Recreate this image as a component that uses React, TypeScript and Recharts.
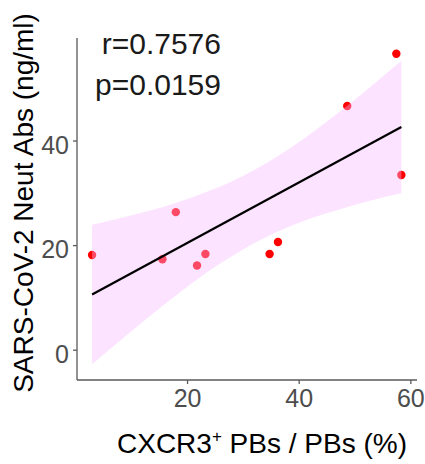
import {
  Area,
  ComposedChart,
  Line,
  Scatter,
  XAxis,
  YAxis,
} from "recharts";

// CXCR3+ PBs / PBs (%) vs neutralising antibodies (ng/ml)
const pctCxcr3 = [57.4, 48.6, 58.3, 17.9, 2.9, 15.5, 23.2, 21.7, 34.7, 36.2];
const neutAbs = [56.7, 46.7, 33.5, 26.4, 18.2, 17.4, 18.4, 16.2, 18.4, 20.7];

// fitted line end points
const fitX = [2.9, 58.3];
const fitY = [10.65, 42.67];

// confidence band
const bandX = [2.9, 8, 13, 18, 23, 28, 32, 36, 41, 46, 51, 55, 58.3];
const bandLow = [-2.7, 1.9, 6.3, 10.5, 14.5, 18.0, 20.5, 22.6, 24.8, 26.5, 28.1, 29.2, 30.0];
const bandHigh = [24.0, 25.3, 26.6, 28.2, 30.1, 32.3, 34.5, 37.0, 40.6, 44.6, 48.8, 52.4, 55.3];

const xTicks = [20, 40, 60];
const yTicks = [0, 20, 40];

const points = pctCxcr3.map((x, i) => ({ x, y: neutAbs[i] }));
const fit = fitX.map((x, i) => ({ x, fit: fitY[i] }));
const band = bandX.map((x, i) => ({ x, band: [bandLow[i], bandHigh[i]] }));

const X_DOMAIN = [0.2, 61.1];
const Y_DOMAIN = [-5.7, 59.7];
const FONT = "'Liberation Sans', Arial, sans-serif";
const AXIS = { stroke: "#595959", strokeWidth: 1.3 };
const TICK = { fill: "#4d4d4d", fontSize: 25, fontFamily: FONT };

const layer = { position: "absolute" as const, left: 0, top: 0 };

export default function App() {
  return (
    <div style={{ ...layer, width: 425, height: 464 }}>
      {/* axes + points */}
      <div style={layer}>
        <ComposedChart
          width={425}
          height={464}
          margin={{ top: 38, right: 8, bottom: 0, left: 0 }}
        >
          <XAxis
            dataKey="x"
            type="number"
            domain={X_DOMAIN}
            ticks={xTicks}
            allowDataOverflow
            height={84}
            axisLine={AXIS}
            tickLine={AXIS}
            tickSize={4}
            tickMargin={5}
            tick={TICK}
          />
          <YAxis
            type="number"
            domain={Y_DOMAIN}
            ticks={yTicks}
            allowDataOverflow
            width={77}
            axisLine={AXIS}
            tickLine={AXIS}
            tickSize={4}
            tickMargin={4}
            tick={{ ...TICK, dy: 4 }}
          />
          <Scatter
            data={points}
            dataKey="y"
            fill="#ff0000"
            shape={(p: any) => <circle cx={p.cx} cy={p.cy} r={4.2} fill="#ff0000" />}
            isAnimationActive={false}
          />
        </ComposedChart>
      </div>
      {/* smoother drawn over the points, as in the original */}
      <div style={layer}>
        <ComposedChart
          width={425}
          height={464}
          margin={{ top: 38, right: 8, bottom: 84, left: 77 }}
        >
          <XAxis dataKey="x" type="number" domain={X_DOMAIN} allowDataOverflow hide />
          <YAxis type="number" domain={Y_DOMAIN} allowDataOverflow hide />
          <Area
            data={band}
            dataKey="band"
            type="monotone"
            stroke="none"
            fill="#f7b9ff"
            fillOpacity={0.4}
            isAnimationActive={false}
          />
          <Line
            data={fit}
            dataKey="fit"
            type="linear"
            stroke="#000000"
            strokeWidth={2.2}
            dot={false}
            isAnimationActive={false}
          />
        </ComposedChart>
      </div>
      <svg
        width={425}
        height={464}
        style={{ ...layer, pointerEvents: "none" }}
        fontFamily={FONT}
      >
        <text x={221} y={54} textAnchor="end" fontSize={30} fill="#1a1a1a">
          r=0.7576
        </text>
        <text x={221} y={95} textAnchor="end" fontSize={30} fill="#1a1a1a">
          p=0.0159
        </text>
        <text
          transform="translate(33,203) rotate(-90)"
          textAnchor="middle"
          fontSize={28}
          fill="#000000"
        >
          SARS-CoV-2 Neut Abs (ng/ml)
        </text>
        <text x={262} y={453} textAnchor="middle" fontSize={28} fill="#000000">
          CXCR3
          <tspan fontSize={17} dy={-11}>+</tspan>
          <tspan dy={11}> PBs / PBs (%)</tspan>
        </text>
      </svg>
    </div>
  );
}
